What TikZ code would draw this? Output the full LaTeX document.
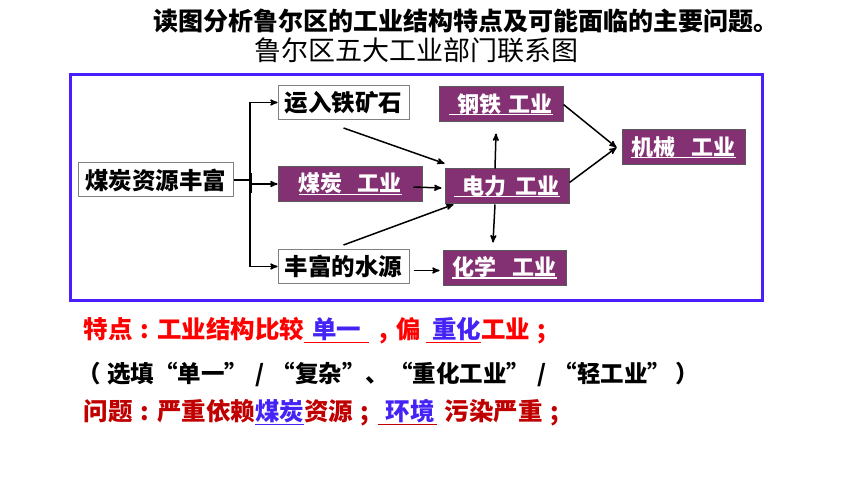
\documentclass[tikz,border=0pt]{standalone}
\usepackage{fontspec}
\setmainfont{Noto Sans CJK SC}
\usepackage{tikz}
\usetikzlibrary{positioning}
\usetikzlibrary{arrows}
\definecolor{plum}{RGB}{131,49,114}
\definecolor{frameblue}{RGB}{75,30,255}
\definecolor{ansblue}{RGB}{70,35,245}
\definecolor{brightred}{RGB}{255,0,0}
\definecolor{darkred}{RGB}{192,0,0}
% white underline for the blanks in the purple boxes
\newcommand\ulwhite[1]{\setbox0\hbox{#1}\rlap{\color{white}\rule[-3pt]{\wd0}{1.2pt}}\box0}
% filled-in blank: line colour, text colour, text
\newcommand\fillin[3]{\setbox0\hbox{\color{#2}#3}\rlap{\color{#1}\rule[-4pt]{\wd0}{1.3pt}}\box0}
% centred punctuation in a full-width cell
\newcommand\cpunct[1]{\makebox[1em]{#1}}
\tikzset{
plain/.style={ % white boxes
draw=gray,
line width=1pt,
fill=white,
inner sep=0pt,
minimum height=34pt,
font=\fontsize{23.5}{26}\selectfont\bfseries},
ind/.style={ % purple industry boxes
draw=gray!70!black,
line width=1pt,
fill=plum,
text=white,
inner sep=0pt,
minimum height=35pt,
minimum width=124pt,
font=\fontsize{22}{26}\selectfont\bfseries},
every edge/.style={ % arrows between boxes
draw,
->,>=stealth',
line width=1.5pt}}

\begin{document}
\begin{tikzpicture}[x=1pt, y=-1pt]
\useasboundingbox (0,0) rectangle (860,484);

\node[anchor=west, font=\fontsize{25}{28}\selectfont\bfseries] (title) at (150,21) {读图分析鲁尔区的工业结构特点及可能面临的主要问题。};
\node[font=\fontsize{27}{30}\selectfont] (subtitle) at (416.5,50) {鲁尔区五大工业部门联系图};

\draw[frameblue, line width=3pt] (70,75) rectangle (762,300);

\node[plain, minimum width=155pt] (coalres) at (155.5,180) {煤炭资源丰富};
\node[ind, minimum width=144pt, right=44pt of coalres, yshift=-4pt] (coalind) {\ulwhite{煤炭\kern15pt 工业}};
\node[plain, minimum width=131pt, above=46pt of coalind.north west, anchor=south west] (ore) {运入铁矿石};
\node[plain, minimum width=131pt, below=47pt of coalind.south west, anchor=north west] (water) {丰富的水源};
\node[ind, right=22pt of coalind, yshift=-2.5pt] (power) {\ulwhite{\kern8pt 电力\kern10pt 工业}};
\node[ind, above=46pt of power.north west, anchor=south west, xshift=-6pt] (steel) {\ulwhite{\kern8pt 钢铁\kern8pt 工业}};
\node[ind, minimum width=123pt, below=45pt of power.south west, anchor=north west, xshift=-2pt] (chem) {\ulwhite{化学\kern17pt 工业}};
\node[ind, minimum width=123pt, right=52pt of power, yshift=39pt] (mach) {\ulwhite{机械\kern17pt 工业}};

\coordinate (fork) at (250,180);
\draw[line width=1.5pt] (coalres) -- (fork);
\draw[line width=1.5pt] (fork |- ore.west) -- (fork |- water.west);
\draw[line width=3pt] ([yshift=7pt]fork) -- ([yshift=-13pt]fork);
\draw (fork |- ore.west) edge (ore.west);
\draw (fork |- coalind.west) edge (coalind.west);
\draw (fork |- water.west) edge (water.west);

\draw ([yshift=-8pt]ore.south) edge ([yshift=5pt]power.north west);
\draw ([xshift=-9pt,yshift=-3pt]coalind.east) edge ([xshift=-3pt,yshift=-1.5pt]power.west);
\draw ([yshift=4pt]water.north) edge ([xshift=9pt]power.south west);
\draw ([xshift=4pt,yshift=-4pt]water.east) edge ([xshift=-3pt,yshift=-3pt]chem.west);
\draw ([xshift=-12pt]power.north) edge ([xshift=-5pt,yshift=-11pt]steel.south);
\draw ([xshift=-12pt]power.south) edge ([xshift=-11.5pt,yshift=7pt]chem.north);
\draw (steel.east) edge ([xshift=-5pt]mach.west);
\draw ([yshift=4pt]power.east) edge ([xshift=-5pt]mach.west);

\node[anchor=west, font=\fontsize{24.5}{28}\selectfont\bfseries] (feature) at (80,331) {{\color{brightred}特点\cpunct{:}工业结构比较}\fillin{brightred}{ansblue}{\kern8pt 单一\kern8pt}{\color{brightred}\kern3pt\cpunct{,}偏}\kern5pt\fillin{brightred}{ansblue}{\kern6pt 重化}{\color{brightred}工业\cpunct{;}}};
\node[anchor=west, font=\fontsize{23.5}{28}\selectfont\bfseries] (choice) at (74,374) {（\kern6pt 选填“单一”\cpunct{/}“复杂”、“重化工业”\cpunct{/}“轻工业”\kern4pt）};
\node[anchor=west, font=\fontsize{24.5}{28}\selectfont\bfseries] (problem) at (80,413) {{\color{darkred}问题\cpunct{:}严重依赖}\fillin{ansblue}{ansblue}{煤炭}{\color{darkred}资源\cpunct{;}}\fillin{darkred}{ansblue}{\kern8pt 环境\kern2pt}\kern8pt{\color{darkred}污染严重\cpunct{;}}};
\end{tikzpicture}
\end{document}
